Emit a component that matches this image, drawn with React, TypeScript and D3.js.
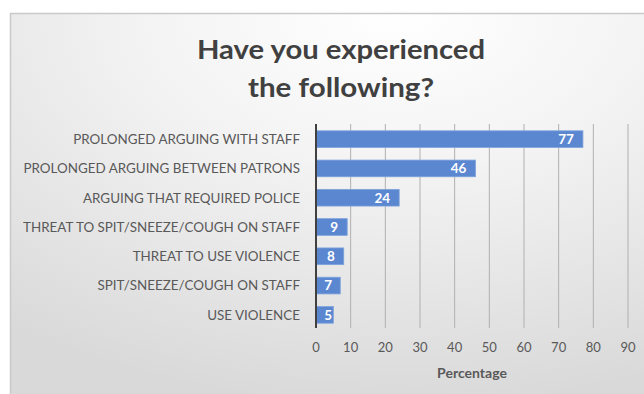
import React from "react";
import * as d3 from "d3";

const categories = [
  "PROLONGED ARGUING WITH STAFF",
  "PROLONGED ARGUING BETWEEN PATRONS",
  "ARGUING THAT REQUIRED POLICE",
  "THREAT TO SPIT/SNEEZE/COUGH ON STAFF",
  "THREAT TO USE VIOLENCE",
  "SPIT/SNEEZE/COUGH ON STAFF",
  "USE VIOLENCE",
];
const values = [77, 46, 24, 9, 8, 7, 5];
const xTicks = [0, 10, 20, 30, 40, 50, 60, 70, 80, 90];
const titleLines = ["Have you experienced", "the following?"];
const axisTitle = "Percentage";

const W = 644;
const H = 394;
const FONT = "Lato, 'Open Sans', sans-serif";

export default function App() {
  const x = d3.scaleLinear().domain([0, 90]).range([316, 628]);
  const y = d3
    .scaleBand<string>()
    .domain(categories)
    .range([124.5, 329.5])
    .paddingInner(0.43)
    .paddingOuter(0.215);

  return (
    <svg
      width={W}
      height={H}
      style={{ position: "absolute", left: 0, top: 0, display: "block" }}
    >
      <defs>
        <radialGradient id="bg" cx="0.6" cy="0.0" r="1.0" fx="0.6" fy="0.0">
          <stop offset="0" stopColor="#ffffff" />
          <stop offset="0.4" stopColor="#f3f3f3" />
          <stop offset="1" stopColor="#d9d9d9" />
        </radialGradient>
      </defs>
      <rect x={0} y={0} width={W} height={H} fill="#ffffff" />
      <rect
        x={10.5}
        y={13.5}
        width={W}
        height={H}
        fill="url(#bg)"
        stroke="#c9c9c9"
        strokeWidth={1.5}
      />
      {titleLines.map((t, i) => (
        <text
          key={t}
          x={341}
          y={59 + i * 38}
          textAnchor="middle"
          fontFamily={FONT}
          fontWeight={700}
          fontSize={27}
          fill="#404040"
          textLength={i === 0 ? 288 : 186}
          lengthAdjust="spacingAndGlyphs"
        >
          {t}
        </text>
      ))}
      {xTicks.slice(1).map((t) => (
        <line
          key={t}
          x1={x(t)}
          x2={x(t)}
          y1={124}
          y2={328}
          stroke="#b0b0b0"
          strokeWidth={1}
        />
      ))}
      {categories.map((c, i) => {
        const yy = y(c)!;
        const bw = y.bandwidth();
        const x1 = x(values[i]);
        const lx = Math.max(x1 - 9, x(0) + 16);
        return (
          <g key={c}>
            <rect
              x={x(0)}
              y={yy}
              width={x1 - x(0)}
              height={bw}
              fill="#5b87d1"
              stroke="#7fa3dc"
              strokeWidth={0.8}
            />
            <text
              x={lx}
              y={yy + bw / 2}
              dy="0.36em"
              textAnchor="end"
              fontFamily={FONT}
              fontWeight={700}
              fontSize={13.5}
              fill="#ffffff"
            >
              {values[i]}
            </text>
            <text
              x={300}
              y={yy + bw / 2}
              dy="0.36em"
              textAnchor="end"
              fontFamily={FONT}
              fontSize={13.4}
              fill="#595959"
            >
              {c}
            </text>
          </g>
        );
      })}
      <line x1={x(0)} x2={x(0)} y1={124} y2={328} stroke="#404040" strokeWidth={2} />
      {xTicks.map((t) => (
        <text
          key={t}
          x={x(t)}
          y={347}
          dy="0.36em"
          textAnchor="middle"
          fontFamily={FONT}
          fontSize={13}
          fill="#595959"
        >
          {t}
        </text>
      ))}
      <text
        x={(x(0) + x(90)) / 2}
        y={373}
        dy="0.36em"
        textAnchor="middle"
        fontFamily={FONT}
        fontWeight={700}
        fontSize={14}
        fill="#595959"
      >
        {axisTitle}
      </text>
    </svg>
  );
}
